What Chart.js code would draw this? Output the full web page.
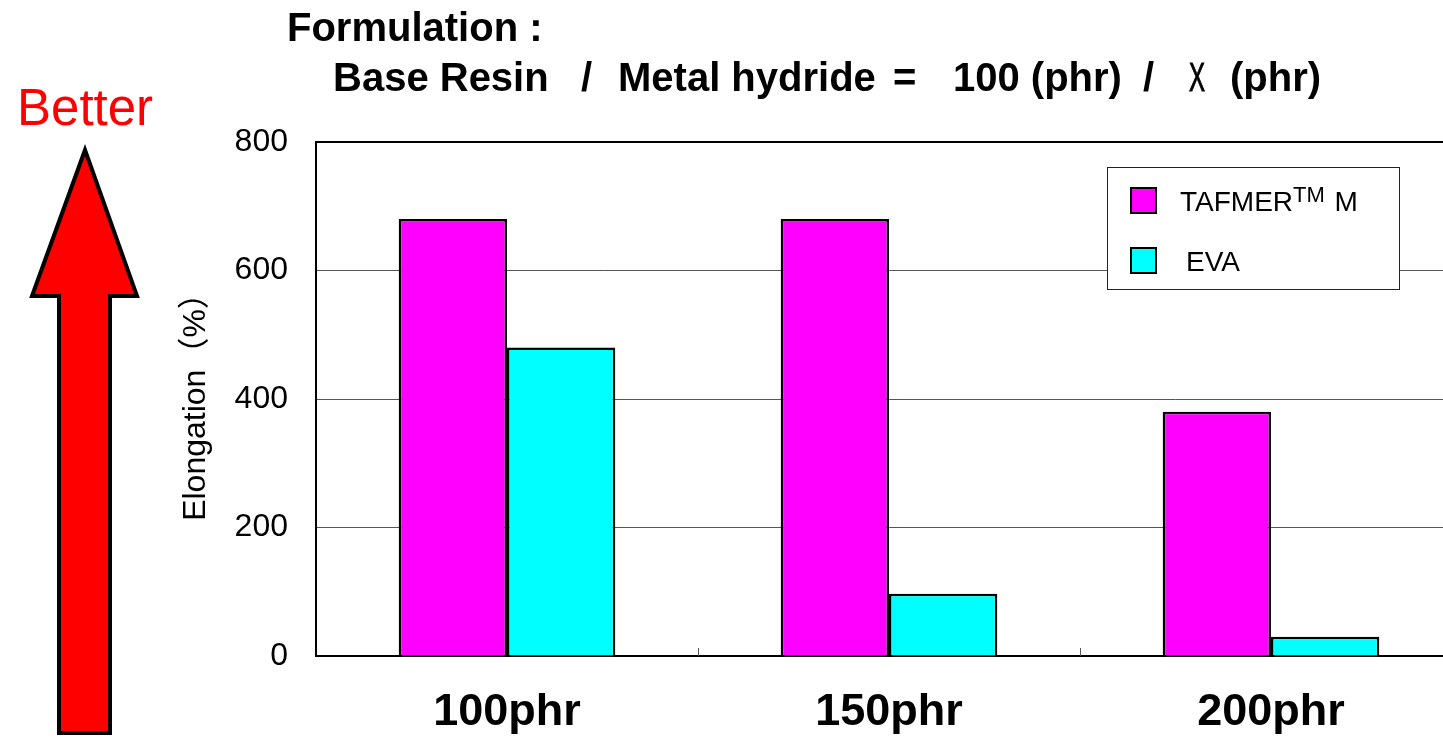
<!DOCTYPE html>
<html>
<head>
<meta charset="utf-8">
<script src="https://cdn.jsdelivr.net/npm/chart.js@4/dist/chart.umd.min.js"></script>
<style>
    html, body { margin: 0; padding: 0; background: #fff; overflow: hidden; }
    body { width: 1443px; height: 738px; position: relative; }
    #wrap { position: absolute; left: 0; top: 0; width: 1470px; height: 738px; }
    .txt { position: absolute; white-space: pre; font-family: 'Liberation Sans', Arial, 'Noto Sans CJK JP', sans-serif; }
    .ttl { font-weight: bold; font-size: 40px; line-height: 40px; color: #000; }
    .l2 { top: 57px; }
    .thin { font-weight: normal; -webkit-text-stroke: 1px #000; transform: scaleX(0.6); transform-origin: left center; }
    #better { left: 17px; top: 82px; font-size: 51px; line-height: 51px; color: #ff0000; }
    #arrow { position: absolute; left: 0; top: 0; }
</style>
</head>
<body>
<div id="wrap"><canvas id="chart"></canvas></div>
<div class="txt ttl" style="left:287px; top:7px;">Formulation :</div>
<div class="txt ttl l2" style="left:333px;">Base Resin</div>
<div class="txt ttl l2" style="left:581px;">/</div>
<div class="txt ttl l2" style="left:618px;">Metal hydride</div>
<div class="txt ttl l2" style="left:893px;">=</div>
<div class="txt ttl l2" style="left:953px;">100 (phr)</div>
<div class="txt ttl l2" style="left:1143px;">/</div>
<div class="txt ttl l2 thin" style="left:1189px;">X</div>
<div class="txt ttl l2" style="left:1230px;">(phr)</div>
<div class="txt" id="better">Better</div>
<svg id="arrow" width="180" height="738">
    <polygon points="85,150 137,296 110,296 110,733 59,733 59,296 32,296"
             fill="#ff0000" stroke="#000" stroke-width="4" stroke-linejoin="miter"/>
</svg>
<script>
const categories = ['100phr', '150phr', '200phr'];
const seriesNames = ['TAFMER\u2122 M', 'EVA'];
const tafmerValues = [680, 680, 380];
const evaValues = [480, 97, 30];
const seriesColors = ['#ff00ff', '#00ffff'];
const yTicks = [0, 200, 400, 600, 800];

const FONT = "'Liberation Sans', Arial, sans-serif";

// top frame line + small category ticks pointing up from the x axis
const framePlugin = {
    id: 'frame',
    afterDraw(chart) {
        const { ctx, chartArea } = chart;
        const x = chart.scales.x;
        ctx.save();
        ctx.strokeStyle = '#000';
        ctx.lineWidth = 2;
        ctx.beginPath();
        ctx.moveTo(chartArea.left, chartArea.top);
        ctx.lineTo(chartArea.right, chartArea.top);
        ctx.stroke();

        ctx.strokeStyle = '#555';
        ctx.lineWidth = 1;
        for (let i = 0; i < categories.length - 1; i++) {
            const px = Math.round((x.getPixelForValue(i) + x.getPixelForValue(i + 1)) / 2) + 0.5;
            ctx.beginPath();
            ctx.moveTo(px, chartArea.bottom);
            ctx.lineTo(px, chartArea.bottom - 8);
            ctx.stroke();
        }
        ctx.restore();
    },
};

// boxed legend with superscript TM
const legendBoxPlugin = {
    id: 'legendBox',
    afterDraw(chart) {
        const { ctx } = chart;
        ctx.save();
        ctx.fillStyle = '#fff';
        ctx.fillRect(1107, 167, 292, 122);
        ctx.strokeStyle = '#222';
        ctx.lineWidth = 1;
        ctx.strokeRect(1107.5, 167.5, 292, 122);

        chart.data.datasets.forEach((ds, i) => {
            const y = 188 + i * 60;
            ctx.fillStyle = ds.backgroundColor;
            ctx.fillRect(1131, y, 25, 25);
            ctx.strokeStyle = '#000';
            ctx.lineWidth = 2;
            ctx.strokeRect(1131, y, 25, 25);

            ctx.fillStyle = '#000';
            ctx.textBaseline = 'alphabetic';
            ctx.font = `28px ${FONT}`;
            const base = y + 23;
            let tx = i === 0 ? 1180 : 1186;
            const parts = ds.label.split('\u2122');
            ctx.fillText(parts[0], tx, base);
            tx += ctx.measureText(parts[0]).width;
            if (parts.length > 1) {
                ctx.font = `22px ${FONT}`;
                ctx.fillText('TM', tx, base - 9);
                tx += ctx.measureText('TM').width + 2;
                ctx.font = `28px ${FONT}`;
                ctx.fillText(parts[1], tx, base);
            }
        });
        ctx.restore();
    },
};

new Chart(document.getElementById('chart'), {
    type: 'bar',
    data: {
        labels: categories,
        datasets: [
            {
                label: seriesNames[0],
                data: tafmerValues,
                backgroundColor: seriesColors[0],
                borderColor: '#000',
                borderWidth: 2.5,
            },
            {
                label: seriesNames[1],
                data: evaValues,
                backgroundColor: seriesColors[1],
                borderColor: '#000',
                borderWidth: 2.5,
            },
        ],
    },
    options: {
        responsive: true,
        maintainAspectRatio: false,
        animation: false,
        categoryPercentage: 0.567,
        barPercentage: 1.0,
        layout: { padding: { left: 0, right: 8, top: 142, bottom: 0 } },
        plugins: {
            legend: { display: false },
            tooltip: { enabled: false },
        },
        scales: {
            x: {
                grid: { display: false, drawTicks: false },
                border: { display: true, color: '#000', width: 2 },
                ticks: {
                    color: '#000',
                    padding: 30,
                    font: { family: FONT, size: 45, weight: 'bold' },
                },
                afterFit: (scale) => { scale.height = 82; },
            },
            y: {
                min: 0,
                max: 800,
                afterBuildTicks: (scale) => { scale.ticks = yTicks.map((v) => ({ value: v })); },
                grid: { color: '#555', lineWidth: 1, drawTicks: false },
                border: { display: true, color: '#000', width: 2 },
                ticks: {
                    color: '#000',
                    padding: 28,
                    font: { family: FONT, size: 32 },
                },
                title: {
                    display: true,
                    text: 'Elongation（%）',
                    color: '#000',
                    padding: { top: 177, bottom: 0 },
                    font: { family: "'Liberation Sans', Arial, 'Noto Sans CJK JP', sans-serif", size: 32 },
                },
                afterFit: (scale) => { scale.width = 316; },
            },
        },
    },
    plugins: [framePlugin, legendBoxPlugin],
});
</script>
</body>
</html>
